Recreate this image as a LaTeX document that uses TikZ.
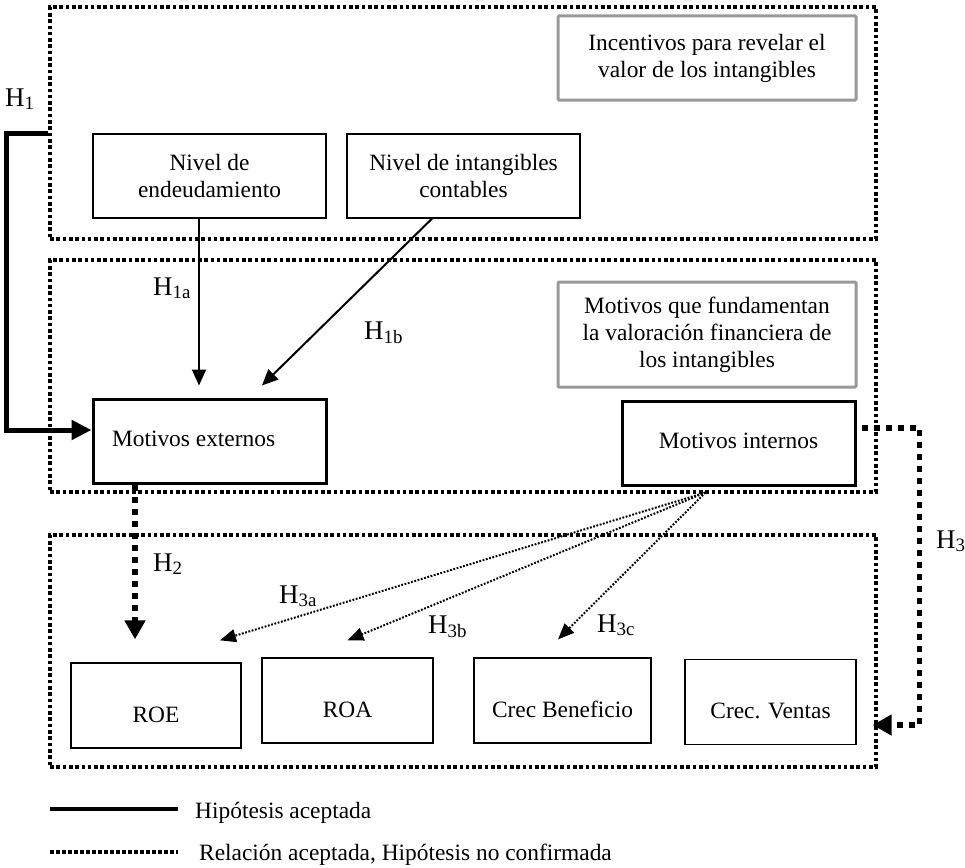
\documentclass[tikz,border=0pt]{standalone}
\usepackage{fontspec}
\setmainfont{Liberation Serif}
\usetikzlibrary{arrows.meta}
\definecolor{framegrey}{HTML}{999999}
\begin{document}
\begin{tikzpicture}[x=1pt,y=-1pt,
  font={\fontsize{23.4}{27}\selectfont},
  region/.style={draw, line width=3.4pt, dash pattern=on 3.6pt off 2.7pt,
    minimum width=826pt, minimum height=232pt, inner sep=0pt},
  greybox/.style={draw=framegrey, line width=3pt, rounded corners=1pt,
    minimum width=298pt, align=center, inner sep=0pt},
  thinbox/.style={draw, line width=1.3pt, align=center, inner sep=0pt},
  thickbox/.style={draw, line width=3pt, minimum width=233pt, minimum height=84pt,
    inner sep=0pt, text height=16pt, text depth=6pt},
  resultbox/.style={thinbox, minimum height=85pt, text height=33pt, text depth=0pt},
  hyp/.style={font={\fontsize{27}{30}\selectfont}, anchor=base west, inner sep=0pt},
  accepted/.style={line width=2pt, -{Triangle[length=16pt,width=14pt]}},
  strongline/.style={line width=5pt, -{Triangle[length=20pt,width=19pt]}},
  unconfirmed/.style={line width=5.5pt, dash pattern=on 6pt off 6pt,
    -{Triangle[length=19pt,width=20pt]}},
  faint/.style={line width=2pt, dash pattern=on 1.8pt off 1.6pt,
    -{Triangle[length=16pt,width=13pt]}}
]
\useasboundingbox (0,0) rectangle (965,867);

% three grouping regions
\node[region] (r1) at (463,123) {};
\node[region] (r2) at (463,376) {};
\node[region] (r3) at (463,651) {};

% region titles
\node[greybox, minimum height=84pt] (t1) at (707,58)
  {Incentivos para revelar el\\valor de los intangibles};
\node[greybox, minimum height=105pt] (t2) at (707,334.5)
  {Motivos que fundamentan\\la valoración financiera de\\los intangibles};

% incentive variables
\node[thinbox, minimum width=233pt, minimum height=84pt] (endeu) at (209.5,176)
  {Nivel de\\endeudamiento};
\node[thinbox, minimum width=233pt, minimum height=84pt] (intang) at (463.5,176)
  {Nivel de intangibles\\contables};

% motives
\node[thickbox, text width=195pt, align=flush left, inner xsep=19pt] (mext) at (209.5,441)
  {Motivos externos};
\node[thickbox, align=center] (mint) at (738.5,443) {Motivos internos};

% performance measures
\node[resultbox, minimum width=170pt] (roe) at (156,705.5) {ROE};
\node[resultbox, minimum width=171pt] (roa) at (347.5,700.5) {ROA};
\node[resultbox, minimum width=177pt] (cben) at (562.5,700.5) {Crec Beneficio};
\node[resultbox, minimum width=171pt] (cven) at (770.5,702) {Crec. Ventas};

% accepted hypotheses
\draw[strongline] (r1.west |- endeu.north) -- ++(-42,0) |- ([yshift=11pt]mext.west);
\draw[accepted] ([xshift=-10.5pt]endeu.south) -- ([xshift=-10.5pt,yshift=12pt]mext.north);
\draw[accepted] ([xshift=-31.5pt]intang.south) -- ([xshift=52.5pt,yshift=12pt]mext.north);

% relations accepted, hypotheses not confirmed
\draw[unconfirmed] ([xshift=-74.5pt]mext.south) -- ([xshift=-21pt,yshift=23pt]roe.north);
\draw[unconfirmed] ([xshift=5pt,yshift=15pt]mint.east) -- ++(58,0)
  |- ([xshift=16pt,yshift=-23pt]cven.east);
\coordinate (fan) at ([xshift=-33pt,yshift=-6pt]mint.south);
\draw[faint] (fan) -- ([xshift=64pt,yshift=22pt]roe.north);
\draw[faint] (fan) -- ([yshift=17pt]roa.north);
\draw[faint] (fan) -- ([xshift=-4.5pt,yshift=18pt]cben.north);

% hypothesis labels
\node[hyp] (h1) at (5,106) {H\textsubscript{1}};
\node[hyp] (h1a) at (153,295) {H\textsubscript{1a}};
\node[hyp] (h1b) at (364,339) {H\textsubscript{1b}};
\node[hyp] (h2) at (153,571) {H\textsubscript{2}};
\node[hyp] (h3) at (936,548) {H\textsubscript{3}};
\node[hyp] (h3a) at (279,603) {H\textsubscript{3a}};
\node[hyp] (h3b) at (428,633) {H\textsubscript{3b}};
\node[hyp] (h3c) at (597,632) {H\textsubscript{3c}};

% legend
\node[anchor=base west, inner sep=0pt] (legA) at (195,818) {Hipótesis aceptada};
\node[anchor=base west, inner sep=0pt] (legB) at (199,860) {Relación aceptada, Hipótesis no confirmada};
\draw[line width=4pt] (50,809) -- (178,809);
\draw[line width=3.5pt, dash pattern=on 3.5pt off 2.5pt] (50,852) -- (178,852);
\end{tikzpicture}
\end{document}
